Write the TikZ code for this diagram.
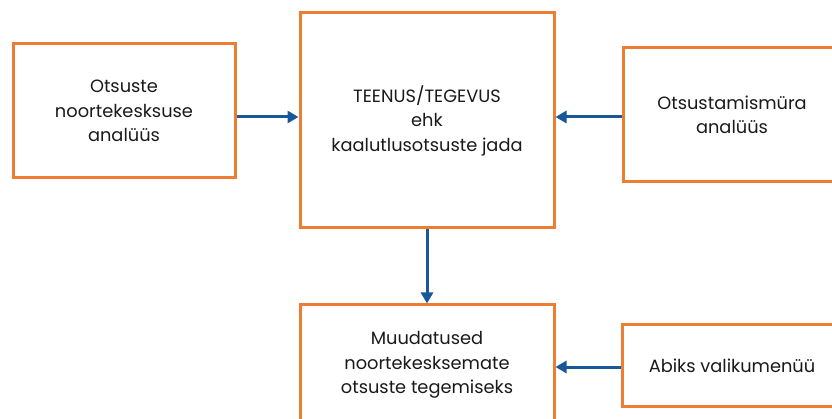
\documentclass[tikz,border=0pt]{standalone}
\usepackage{fontspec}
\setmainfont{Poppins}
\usetikzlibrary{arrows.meta}
\definecolor{boxorange}{RGB}{237,125,49}
\definecolor{arrowblue}{RGB}{22,88,154}
\definecolor{txt}{RGB}{26,26,26}
\tikzset{
  obox/.style={draw=boxorange, line width=3pt, fill=white, align=center, text=txt,
    font=\fontsize{17.8}{24.5}\selectfont, inner sep=0pt},
  barrow/.style={draw=arrowblue, line width=3pt, -{Triangle[length=11pt,width=12pt]}}
}
\begin{document}
\begin{tikzpicture}[x=1pt,y=1pt]
\useasboundingbox (0,0) rectangle (832,-419);
\clip (0,0) rectangle (832,-419);
\node[obox, minimum width=222pt, minimum height=134pt] (left) at (124,-111) {Otsuste\\noortekesksuse\\analüüs};
\node[obox, minimum width=254pt, minimum height=215pt] (center) at (427,-120.5) {TEENUS/TEGEVUS\\ehk\\kaalutlusotsuste jada};
\node[obox, minimum width=218pt, minimum height=134pt] (right) at (732,-115) {Otsustamismüra\\analüüs};
\node[obox, minimum width=254pt, minimum height=120pt] (bottom) at (427,-365) {Muudatused\\noortekesksemate\\otsuste tegemiseks};
\node[obox, minimum width=220pt, minimum height=81pt] (bright) at (732,-365.5) {Abiks valikumenüü};
\draw[barrow] (left.east |- 0,-117) -- (center.west |- 0,-117);
\draw[barrow] (right.west |- 0,-117) -- (center.east |- 0,-117);
\draw[barrow] (center.south) -- (bottom.north);
\draw[barrow] (bright.west |- 0,-367) -- (bottom.east |- 0,-367);
\end{tikzpicture}
\end{document}
